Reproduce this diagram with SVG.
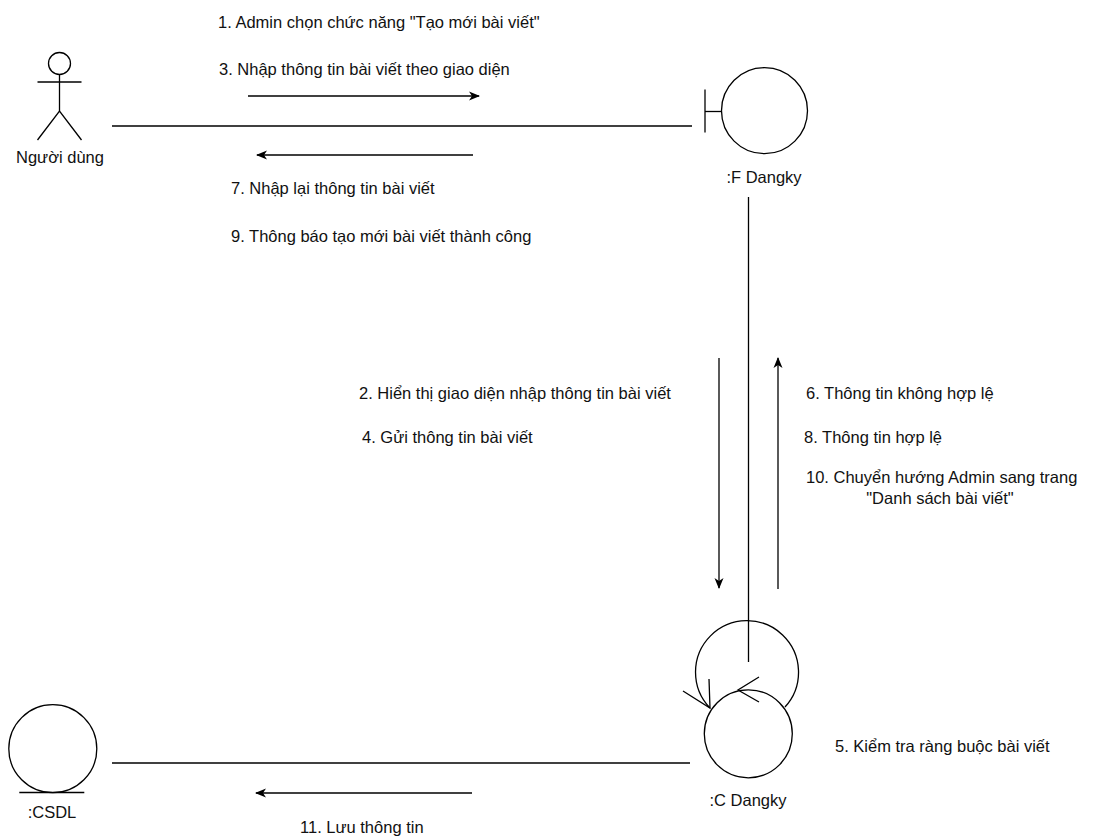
<svg xmlns="http://www.w3.org/2000/svg" width="1099" height="837" viewBox="0 0 1099 837">
<style>
.s{fill:none;stroke:#000;stroke-width:1.3}
.w{fill:#fff;stroke:#000;stroke-width:1.3}
.c{stroke:#000;stroke-width:1.3;fill:none}
text{font-family:"Liberation Sans",Arial,sans-serif;font-size:16.5px;fill:#111}
.m{text-anchor:middle}
</style>
<defs>
<marker id="ah" markerUnits="userSpaceOnUse" markerWidth="12" markerHeight="10" refX="10" refY="5" orient="auto">
<path d="M0,0.5 L11,5 L0,9.5 L3,5 z" fill="#000"/>
</marker>
</defs>
<rect width="1099" height="837" fill="#fff"/>
<g id="connectors">
<line class="c" x1="112" y1="126" x2="692" y2="126"/>
<line class="c" x1="748.5" y1="197" x2="748.5" y2="662"/>
<line class="c" x1="112" y1="763" x2="690" y2="763"/>
<path class="c" d="M785,707 A51.5,51.5 0 1 0 710,708"/>
<polyline class="c" points="683,691 710,708 709,679"/>
<line class="c" x1="248" y1="96" x2="479" y2="96" marker-end="url(#ah)"/>
<line class="c" x1="473" y1="155" x2="257" y2="155" marker-end="url(#ah)"/>
<line class="c" x1="719" y1="358" x2="719" y2="588" marker-end="url(#ah)"/>
<line class="c" x1="778" y1="589" x2="778" y2="358" marker-end="url(#ah)"/>
<line class="c" x1="472" y1="793" x2="256" y2="793" marker-end="url(#ah)"/>
</g>
<g id="actor">
<circle class="s" cx="59.5" cy="63.5" r="11"/>
<line class="s" x1="59.5" y1="74.5" x2="59.5" y2="111"/>
<line class="s" x1="37.5" y1="82" x2="81.5" y2="82"/>
<polyline class="s" points="37.5,140 59.5,111 81.5,140"/>
<text class="m" x="60" y="163">Người dùng</text>
</g>
<g id="boundary">
<line class="s" x1="705" y1="89.5" x2="705" y2="132.5"/>
<line class="s" x1="705" y1="111.5" x2="721.5" y2="111.5"/>
<circle class="w" cx="764.5" cy="110.7" r="43"/>
<text class="m" x="764" y="183">:F Dangky</text>
</g>
<g id="control">
<circle class="w" cx="748.3" cy="733.8" r="44"/>
<polyline class="s" points="759,677 738,690 759,702"/>
<text class="m" x="748" y="806">:C Dangky</text>
</g>
<g id="entity">
<circle class="w" cx="52.8" cy="748.7" r="44"/>
<line class="s" x1="19.3" y1="792.5" x2="84.3" y2="792.5"/>
<text class="m" x="52" y="818">:CSDL</text>
</g>
<g id="labels">
<text x="218" y="28">1. Admin chọn chức năng "Tạo mới bài viết"</text>
<text x="219" y="75">3. Nhập thông tin bài viết theo giao diện</text>
<text x="231" y="194">7. Nhập lại thông tin bài viết</text>
<text x="231" y="242">9. Thông báo tạo mới bài viết thành công</text>
<text x="359" y="399">2. Hiển thị giao diện nhập thông tin bài viết</text>
<text x="362" y="443">4. Gửi thông tin bài viết</text>
<text x="806" y="399">6. Thông tin không hợp lệ</text>
<text x="804" y="443">8. Thông tin hợp lệ</text>
<text x="806" y="483">10. Chuyển hướng Admin sang trang</text>
<text class="m" x="940" y="504">"Danh sách bài viết"</text>
<text x="835" y="752">5. Kiểm tra ràng buộc bài viết</text>
<text x="300" y="833">11. Lưu thông tin</text>
</g>
</svg>
